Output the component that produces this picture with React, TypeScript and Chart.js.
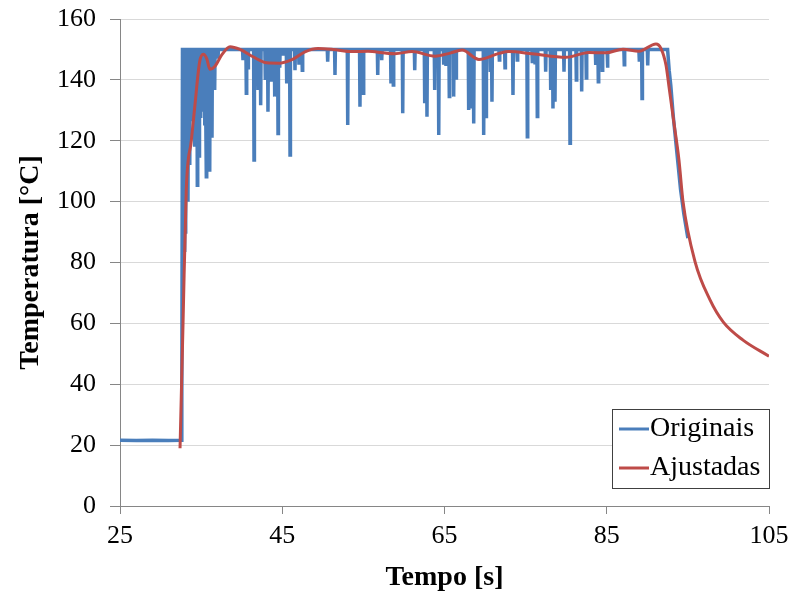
import React, { useEffect, useRef } from 'react';
import { Chart, registerables } from 'chart.js';
Chart.register(...registerables);

// ---- axes ----
const xTicks = [25, 45, 65, 85, 105];
const yTicks = [0, 20, 40, 60, 80, 100, 120, 140, 160];

// ---- "Originais" (measured) ----
const baseTimes = [25, 27, 29, 31, 32.58];
const baseTemps = [21.6, 21.5, 21.6, 21.5, 21.6];
const riseTimes = [32.62, 32.7];
const riseTemps = [34, 150];
const plateauTemp = 150;
const spikeTimes = [
  32.9, 33.05, 33.38, 33.6, 33.88, 34.2, 34.53, 34.75, 34.95, 35.23, 35.45, 35.64, 35.85, 36.06, 36.34, 36.67, 37.08,
  40.16, 40.57, 40.78, 41.52, 42.01, 42.34, 42.91, 43.24, 43.65, 44.07, 44.48, 44.69, 45.09, 45.55, 45.96, 46.57,
  47.06, 47.47, 50.6, 51.5, 53.07, 54.58, 54.99, 56.77, 57.26, 58.4, 58.69, 59.85, 61.33, 62.56, 62.84, 63.79,
  64.29, 64.9, 65.18, 65.59, 66.13, 66.42, 67.98, 68.3, 68.6, 69.83, 70.12, 70.64, 70.85, 71.76, 72.46, 73.44,
  73.97, 75.21, 75.82, 76.16, 76.44, 77.47, 78.09, 78.37, 78.62, 79.73, 80.47, 81.25, 81.91, 82.48, 83.64, 83.96,
  84.45, 85.09, 87.16, 89.01, 89.35, 90.05,
];
const spikeTemps = [
  84, 90, 100, 112, 127, 118, 105.4, 115, 127.5, 129.5, 125, 108.2, 130, 109.8, 121, 136.7, 147,
  146.5, 135.6, 144, 113.7, 136.7, 131.7, 140.5, 129.5, 140, 134.5, 122.4, 144, 148, 138.8, 115.3, 143.2,
  145, 143.2, 146, 141.6, 125.2, 131.2, 135.6, 141.6, 146.5, 138.8, 138.3, 129, 143.2, 132.3, 127.9, 136.7,
  121.9, 145, 144.6, 134.5, 134.5, 140.6, 130.1, 131.2, 125.7, 121.9, 128, 143.2, 132.8, 146.5, 144, 135,
  146.5, 121.3, 146, 145.6, 128, 142.7, 136.7, 130.6, 132.8, 142.7, 119.2, 140, 136.2, 140.6, 144.9, 139.4,
  143.2, 144, 145, 146.5, 133.9, 144.7,
];
const plateauEnd = 92.5;
const decayTimes = [92.7, 92.9, 93.2, 93.5, 93.8, 94.1, 94.5, 95.0];
const decayTemps = [143, 138, 128, 120, 112, 104, 96, 88];

// ---- "Ajustadas" (fitted) ----
const fitTimes = [
  32.4, 32.77, 33.17, 33.79, 34.21, 34.82, 35.27, 35.69, 36.09, 36.71, 37.54, 38.56, 39.79, 41.39, 43.08, 44.72,
  46.33, 47.8, 49.4, 51.26, 53.6, 55.57, 57.67, 58.9, 61.0, 63.83, 65.7, 67.16, 69.25, 71.72, 72.95, 75.79, 79.98,
  82.81, 84.9, 87.0, 88.97, 91.07, 91.69, 92.3, 92.67, 93.29, 93.9, 94.4, 95.88, 97.73, 99.37, 101.8, 105,
];
const fitTemps = [
  19, 60, 104, 120, 131, 146, 148.4, 147, 143.5, 144.5, 148.2, 150.9, 150, 147.6, 145.6, 145.5,
  146.8, 149.2, 150.3, 150, 149.3, 149.4, 148.8, 148.6, 149.3, 147.8, 148.8, 149.8, 146.7, 148.7, 149.3, 148.6, 147.4,
  149, 148.9, 150.1, 149.4, 151.8, 150.3, 144.9, 137.8, 125.7, 113.7, 100, 80.3, 67.7, 60.4, 54.5, 49.2,
];

const seriesLabels = ['Originais', 'Ajustadas'];
const BLUE = '#4A7EBB';
const RED = '#BE4B48';
const SERIF = '"Liberation Serif", "Times New Roman", serif';

function buildOriginal() {
  const pts: { x: number; y: number }[] = [];
  baseTimes.forEach((t, i) => pts.push({ x: t, y: baseTemps[i] }));
  riseTimes.forEach((t, i) => pts.push({ x: t, y: riseTemps[i] }));
  spikeTimes.forEach((t, i) => {
    pts.push({ x: t - 0.05, y: plateauTemp });
    pts.push({ x: t, y: spikeTemps[i] });
    pts.push({ x: t + 0.05, y: plateauTemp });
  });
  pts.push({ x: plateauEnd, y: plateauTemp });
  decayTimes.forEach((t, i) => pts.push({ x: t, y: decayTemps[i] }));
  return pts;
}

const legendPlugin = {
  id: 'boxLegend',
  afterDraw(chart: any) {
    const { ctx, chartArea } = chart;
    const w = 158, h = 80;
    const x = chartArea.right + 1 - w;
    const y = chartArea.bottom - 17 - h;
    ctx.save();
    ctx.fillStyle = '#ffffff';
    ctx.fillRect(x, y, w, h);
    ctx.strokeStyle = '#404040';
    ctx.lineWidth = 1;
    ctx.strokeRect(x + 0.5, y + 0.5, w - 1, h - 1);
    const colors = [BLUE, RED];
    ctx.font = '28px ' + SERIF;
    ctx.textBaseline = 'middle';
    ctx.textAlign = 'left';
    seriesLabels.forEach((lab, i) => {
      const cy = y + 20 + i * 39;
      ctx.strokeStyle = colors[i];
      ctx.lineWidth = 3;
      ctx.beginPath();
      ctx.moveTo(x + 7, cy);
      ctx.lineTo(x + 37, cy);
      ctx.stroke();
      ctx.fillStyle = '#000';
      ctx.fillText(lab, x + 38, cy);
    });
    ctx.restore();
  },
};

export default function App() {
  const ref = useRef<HTMLCanvasElement>(null);
  useEffect(() => {
    if (!ref.current) return;
    const chart = new Chart(ref.current, {
      type: 'line',
      data: {
        datasets: [
          {
            label: seriesLabels[0],
            data: buildOriginal(),
            borderColor: BLUE,
            borderWidth: 3.5,
            pointRadius: 0,
            tension: 0,
            order: 2,
          },
          {
            label: seriesLabels[1],
            data: fitTimes.map((t, i) => ({ x: t, y: fitTemps[i] })),
            borderColor: RED,
            borderWidth: 3,
            pointRadius: 0,
            cubicInterpolationMode: 'monotone',
            order: 1,
          },
        ],
      },
      options: {
        animation: false,
        responsive: true,
        maintainAspectRatio: false,
        layout: { padding: { top: 19, right: 23, bottom: 0, left: 0 } },
        plugins: { legend: { display: false }, tooltip: { enabled: false } },
        scales: {
          x: {
            type: 'linear',
            min: 25,
            max: 105,
            afterBuildTicks: (s: any) => {
              s.ticks = xTicks.map((v) => ({ value: v }));
            },
            afterFit: (s: any) => {
              s.height = 89;
              s.paddingLeft = 0;
              s.paddingRight = 0;
            },
            grid: { drawOnChartArea: false, drawTicks: true, tickLength: 8, tickColor: '#868686' },
            border: { color: '#868686', width: 1 },
            ticks: { font: { family: SERIF, size: 26 }, color: '#000', padding: 7, maxRotation: 0 },
            title: {
              display: true,
              text: 'Tempo [s]',
              font: { family: SERIF, size: 28, weight: 'bold' },
              color: '#000',
              padding: { top: 0, bottom: 0 },
            },
          },
          y: {
            min: 0,
            max: 160,
            afterBuildTicks: (s: any) => {
              s.ticks = yTicks.map((v) => ({ value: v }));
            },
            afterFit: (s: any) => {
              s.width = 120;
              s.paddingTop = 0;
              s.paddingBottom = 0;
            },
            grid: { color: '#D9D9D9', tickColor: '#868686', tickLength: 10 },
            border: { color: '#868686', width: 1 },
            ticks: { font: { family: SERIF, size: 26 }, color: '#000', padding: 14 },
            title: {
              display: true,
              text: 'Temperatura [°C]',
              font: { family: SERIF, size: 28, weight: 'bold' },
              color: '#000',
              padding: { top: 14, bottom: 0 },
            },
          },
        },
      },
      plugins: [legendPlugin],
    });
    return () => chart.destroy();
  }, []);
  return (
    <div style={{ position: 'absolute', left: 0, top: 0, width: 792, height: 595, background: '#fff' }}>
      <canvas ref={ref} />
    </div>
  );
}
